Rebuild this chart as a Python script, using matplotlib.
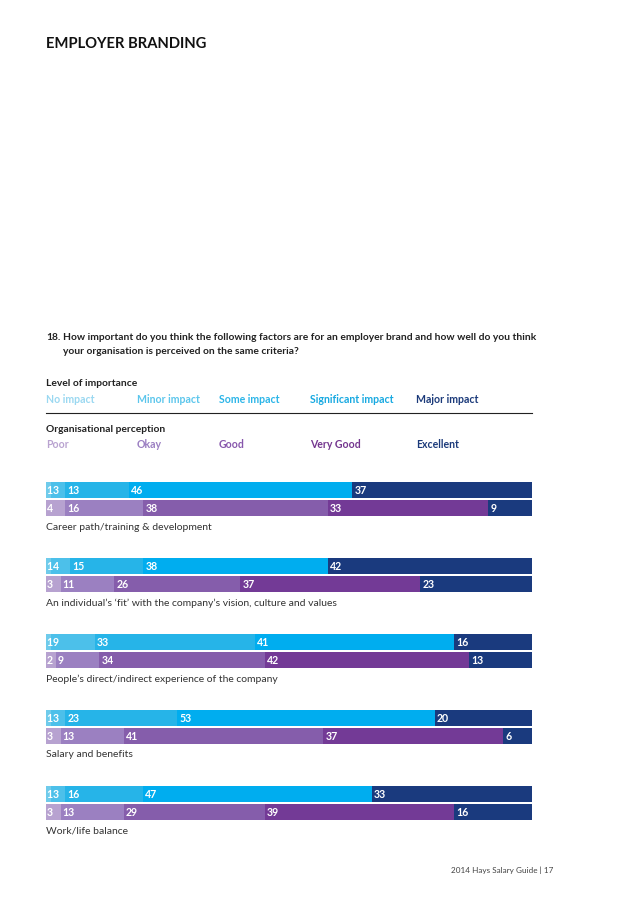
import numpy as np
import matplotlib
matplotlib.use("Agg")
import matplotlib.pyplot as plt

plt.rcParams['font.family'] = ['Lato', 'DejaVu Sans']

# Survey data (percentages)
categories = [
    "Career path/training & development",
    "An individual\u2019s \u2018fit\u2019 with the company\u2019s vision, culture and values",
    "People\u2019s direct/indirect experience of the company",
    "Salary and benefits",
    "Work/life balance",
]
importance_labels = ["No impact", "Minor impact", "Some impact", "Significant impact", "Major impact"]
perception_labels = ["Poor", "Okay", "Good", "Very Good", "Excellent"]

importance = [
    [1, 3, 13, 46, 37],
    [1, 4, 15, 38, 42],
    [1, 9, 33, 41, 16],
    [1, 3, 23, 53, 20],
    [1, 3, 16, 47, 33],
]
perception = [
    [4, 16, 38, 33, 9],
    [3, 11, 26, 37, 23],
    [2, 9, 34, 42, 13],
    [3, 13, 41, 37, 6],
    [3, 13, 29, 39, 16],
]

imp_colors = ["#6fcbeb", "#4cc0ea", "#26b4e8", "#00adef", "#1a3a7e"]
per_colors = ["#b7a2d0", "#9b80c1", "#855dab", "#733a96", "#1a3a7e"]
imp_text = ["#9ad8f1", "#5cc6ec", "#2bb5e8", "#17a9e1", "#1b3a7a"]
per_text = ["#b9a3d0", "#9b7fc2", "#8757ac", "#74368f", "#1b3a7a"]

W, H = 638, 903
fig = plt.figure(figsize=(W / 100, H / 100), dpi=100)


def fx(px):
    return px / W


def fy(py):
    return 1 - py / H


# Header texts
fig.text(fx(46), fy(44), "EMPLOYER BRANDING", fontsize=10.6, fontweight='bold',
         color='#111111', va='center')
fig.text(fx(46), fy(338), "18.", fontsize=7.4, fontweight='bold', color='#222222', va='center')
fig.text(fx(63), fy(338), "How important do you think the following factors are for an employer brand "
         "and how well do you think", fontsize=7.4, fontweight='bold', color='#222222', va='center')
fig.text(fx(63), fy(352), "your organisation is perceived on the same criteria?",
         fontsize=7.4, fontweight='bold', color='#222222', va='center')

# Legend
legend_x = [46, 137, 219, 310, 416]
fig.text(fx(46), fy(384), "Level of importance", fontsize=7.4, fontweight='bold',
         color='#222222', va='center')
for x, lab, c in zip(legend_x, importance_labels, imp_text):
    fig.text(fx(x), fy(400), lab, fontsize=7.6, fontweight='bold', color=c, va='center')
fig.add_artist(plt.Line2D([fx(46), fx(532)], [fy(414), fy(414)], color='#222222', lw=0.8))
fig.text(fx(46), fy(430), "Organisational perception", fontsize=7.4, fontweight='bold',
         color='#222222', va='center')
for x, lab, c in zip(legend_x, perception_labels, per_text):
    fig.text(fx(x), fy(445), lab, fontsize=7.6, fontweight='bold', color=c, va='center')

# Bars
ax_top, ax_bot = 470, 845
ax = fig.add_axes([fx(46), fy(ax_bot), fx(532) - fx(46), (ax_bot - ax_top) / H])
ax.set_xlim(0, 100)
first_center = 490.5
ax.set_ylim(ax_bot - first_center, ax_top - first_center)
ax.axis('off')

group_gap = 76
bar_h = 16
row_gap = 18.5

for i, cat in enumerate(categories):
    base = i * group_gap
    for row, (vals, cols) in enumerate([(importance[i], imp_colors), (perception[i], per_colors)]):
        y = base + row * row_gap
        lefts = np.concatenate([[0], np.cumsum(vals)[:-1]])
        ax.barh(y, vals, left=lefts, height=bar_h, color=cols, edgecolor='none')
        for l, v in zip(lefts, vals):
            pad = 0.1 if l == 0 else 0.45
            ax.text(l + pad, y, str(v), color='white', fontsize=7.6, fontweight='bold',
                    va='center', ha='left')
    ax.text(0, base + 36.5, cat, fontsize=7.5, color='#333333', va='center', ha='left')

fig.text(fx(553), fy(870), "2014 Hays Salary Guide | 17", fontsize=5.9, color='#444444',
         va='center', ha='right')

fig.savefig("out.png", dpi=100)
